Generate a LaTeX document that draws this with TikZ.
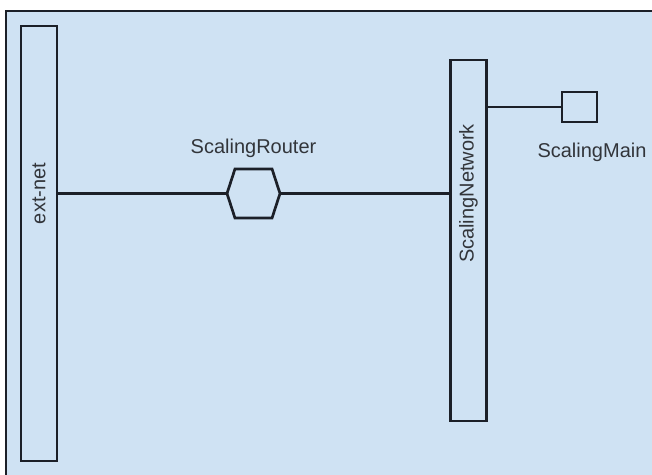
\documentclass[tikz,border=0pt]{standalone}
\usepackage{fontspec}
\setmainfont{Liberation Sans}
\usetikzlibrary{positioning,shapes.symbols}
\definecolor{paneblue}{RGB}{207,226,243}
\definecolor{edgedark}{RGB}{28,32,40}
\definecolor{labelgray}{RGB}{50,53,58}

\begin{document}
\begin{tikzpicture}[x=1pt, y=-1pt, line width=2.7pt,
        every node/.style = {font=\fontsize{20pt}{24pt}\selectfont, text=labelgray},
            net/.style = {draw=edgedark, fill=paneblue, minimum width=36pt, inner sep=0pt},
         router/.style = {draw=edgedark, fill=paneblue, signal, signal to=east and west,
                          signal pointer angle=144, minimum width=53pt, minimum height=49pt, inner sep=0pt},
           host/.style = {draw=edgedark, fill=paneblue, minimum width=35pt, minimum height=30pt, inner sep=0pt},
           link/.style = {draw=edgedark}]
    \useasboundingbox (0,0) rectangle (652,474);
    \fill[white] (0,0) rectangle (652,474);
    \draw[draw=edgedark, fill=paneblue] (6,11) rectangle (670,490);

    \node[net, minimum height=435pt] (extnet) at (39,243.5) {};
    \node[net, minimum height=361pt] (scalnet) at (468.5,240.5) {};
    \node[router] (scalrouter) at (253.5,193.5) {};
    \node[host] (scalmain) at (579.5,107) {};

    \draw[link] (scalrouter.west) -- (scalrouter.west -| extnet.east);
    \draw[link] (scalrouter.east) -- (scalrouter.east -| scalnet.west);
    \draw[link] (scalmain.west) -- (scalmain.west -| scalnet.east);

    \node[rotate=90] at (extnet |- scalrouter) {ext-net};
    \node[rotate=90] at (scalnet |- scalrouter) {ScalingNetwork};
    \node[above=5pt of scalrouter] {ScalingRouter};
    \node at (592,152) {ScalingMain};
\end{tikzpicture}
\end{document}
